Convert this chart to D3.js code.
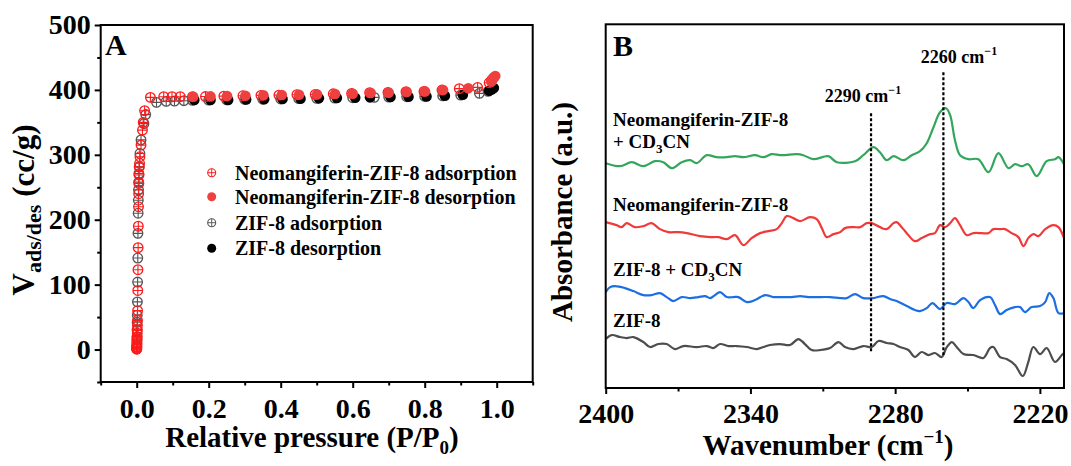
<!DOCTYPE html>
<html>
<head>
<meta charset="utf-8">
<script src="https://cdn.jsdelivr.net/npm/d3@7"></script>
<style>
  body { margin: 0; background: #fff; }
  svg { display: block; font-family: "Liberation Serif", "Times New Roman", serif; font-weight: bold; }
  svg text { font-family: "Liberation Serif", "Times New Roman", serif; font-weight: bold; }
</style>
</head>
<body>
<svg id="fig" width="1071" height="466"></svg>
<script>
// ---------- Panel A: N2 isotherms, [P/P0, V (cc/g)] ----------
const neoAdsorption = [
  [0.0001,0.5],[0.0002,1.5],[0.0003,3],[0.0005,5],[0.0007,8],[0.0009,12],[0.001,16],[0.0012,20],
  [0.0015,25],[0.0017,30],[0.002,37],[0.0022,45],[0.0025,60],[0.003,91],[0.0035,123],[0.004,157],
  [0.0045,190],[0.005,220],[0.0055,240],[0.006,256],[0.0065,269],[0.007,281],[0.008,287],[0.009,297],
  [0.012,315],[0.016,338],[0.018,350],[0.022,368],
  [0.038,388.5],[0.075,389.5],[0.098,389.5],[0.121,389.5],[0.155,389.5],[0.191,389.8],[0.242,390.5],
  [0.295,391],[0.345,391.6],[0.395,392],[0.445,392.6],[0.496,393],[0.546,394],[0.597,394.6],
  [0.647,395.7],[0.698,396.2],[0.748,397.2],[0.798,397.7],[0.848,399.8],[0.896,401.9],[0.947,403.9],
  [0.979,411],[0.986,415],[0.992,419]
];
const neoDesorption = [
  [0.996,421.4],[0.990,417.8],[0.985,412.6],[0.921,402.4],[0.851,399.8],[0.801,397.7],[0.750,396.7],
  [0.700,395.7],[0.650,395.2],[0.600,394.1],[0.551,393.6],[0.501,393.1],[0.451,392.6],[0.403,392.1],
  [0.352,391.6],[0.302,391.1],[0.251,390.5],[0.205,390],[0.157,389.5]
];
const zifAdsorption = [
  [0.0001,1],[0.0002,4],[0.0004,9],[0.0006,15],[0.0008,19.5],[0.001,30],[0.0013,42],[0.0016,53],
  [0.002,73.5],[0.0025,104],[0.003,141],[0.0035,179],[0.004,210],[0.0045,230],[0.005,246],
  [0.0055,258],[0.006,271],[0.007,282],[0.009,302],[0.012,323],[0.02,348],[0.025,362],
  [0.055,380.8],[0.082,382.3],[0.105,382.8],[0.131,383.4],[0.155,383.9],[0.2,384.2],[0.25,384.7],
  [0.3,385.2],[0.35,385.6],[0.4,386],[0.45,386.5],[0.5,387],[0.55,387.5],[0.6,388],[0.66,388.5],
  [0.7,389],[0.75,389.5],[0.8,390],[0.85,390.8],[0.9,392],[0.952,394.7],[0.976,397.8]
];
const zifDesorption = [
  [0.992,403],[0.986,400.8],[0.979,398.8],[0.906,392.6],[0.856,391],[0.805,390],[0.755,389.5],
  [0.705,389],[0.648,388.5],[0.607,388],[0.556,387.5],[0.506,387],[0.455,386.5],[0.405,386],
  [0.354,385.6],[0.304,385.4],[0.254,384.6],[0.205,384.4],[0.16,384.4]
];
const pressureTicks = [0, 0.2, 0.4, 0.6, 0.8, 1.0];
const pressureMinorTicks = [-0.1, 0.1, 0.3, 0.5, 0.7, 0.9, 1.1];
const volumeTicks = [0, 100, 200, 300, 400, 500];
const volumeMinorTicks = [-50, 50, 150, 250, 350, 450];
const isothermNames = ["Neomangiferin-ZIF-8 adsorption", "Neomangiferin-ZIF-8 desorption",
                       "ZIF-8 adsorption", "ZIF-8 desorption"];

// ---------- Panel B: IR spectra, [wavenumber (cm-1), absorbance (a.u.)] ----------
const specZif8 = [
  [2400,0.49],[2397.5,0.53],[2394.1,0.51],[2391.3,0.50],[2388.5,0.51],[2384.4,0.46],[2381.6,0.41],
  [2378.2,0.44],[2374.7,0.44],[2371.3,0.39],[2367.8,0.42],[2362.3,0.41],[2358.1,0.42],[2355.4,0.40],
  [2352.6,0.44],[2349.1,0.42],[2345.7,0.42],[2341.5,0.41],[2337.4,0.39],[2334.6,0.41],[2331.9,0.43],
  [2327.7,0.44],[2323.6,0.43],[2320.1,0.49],[2317.4,0.44],[2314.6,0.38],[2311.1,0.38],[2307.0,0.40],
  [2303.5,0.46],[2300.8,0.41],[2297.3,0.39],[2293.2,0.42],[2289.7,0.41],[2286.9,0.47],[2283.5,0.45],
  [2280.7,0.44],[2278.0,0.41],[2274.5,0.38],[2271.8,0.31],[2269.0,0.36],[2266.2,0.33],[2263.5,0.35],
  [2260.7,0.31],[2258.6,0.41],[2256.5,0.46],[2254.5,0.41],[2251.7,0.34],[2247.6,0.33],[2243.4,0.30],
  [2240.7,0.40],[2239.3,0.41],[2236.5,0.31],[2233.8,0.29],[2230.3,0.23],[2227.1,0.12],[2224.8,0.26],
  [2222.7,0.41],[2219.9,0.34],[2217.2,0.40],[2213.7,0.26],[2210.9,0.33],[2210,0.35]
];
const specZif8CD3CN = [
  [2400,0.96],[2398.2,1.01],[2396.1,1.02],[2392.0,1.00],[2388.5,0.97],[2384.4,0.93],[2381.0,0.93],
  [2377.5,0.95],[2374.7,0.91],[2372.0,0.87],[2368.5,0.91],[2365.0,0.90],[2361.6,0.91],[2358.8,0.92],
  [2356.7,0.90],[2354.7,0.93],[2352.6,0.96],[2349.8,0.91],[2347.1,0.91],[2345.0,0.91],[2341.5,0.86],
  [2338.1,0.88],[2333.9,0.93],[2330.5,0.91],[2327.0,0.91],[2322.9,0.91],[2319.4,0.92],[2316.0,0.91],
  [2312.5,0.91],[2307.0,0.91],[2302.8,0.90],[2300.1,0.90],[2296.6,0.94],[2293.2,0.90],[2289.0,0.90],
  [2284.9,0.92],[2282.1,0.89],[2279.4,0.87],[2275.2,0.82],[2271.8,0.78],[2269.7,0.77],[2266.9,0.80],
  [2264.5,0.85],[2261.4,0.79],[2258.6,0.85],[2255.2,0.84],[2251.7,0.90],[2249.6,0.86],[2247.6,0.80],
  [2244.8,0.88],[2240.7,0.91],[2238.6,0.83],[2236.5,0.74],[2233.8,0.78],[2230.3,0.81],[2228.2,0.81],
  [2226.2,0.76],[2223.4,0.81],[2219.9,0.82],[2217.8,0.86],[2216.1,0.95],[2214.4,0.90],[2212.3,0.75],
  [2210,0.75]
];
const specNeo = [
  [2400,1.66],[2395.5,1.63],[2393.4,1.61],[2391.3,1.65],[2387.9,1.61],[2384.4,1.62],[2381.0,1.65],
  [2377.5,1.59],[2374.0,1.56],[2369.9,1.56],[2366.4,1.55],[2360.9,1.52],[2356.7,1.51],[2353.3,1.51],
  [2349.8,1.49],[2346.4,1.53],[2342.9,1.43],[2339.5,1.50],[2336.0,1.55],[2332.6,1.57],[2329.1,1.59],
  [2327.0,1.65],[2325.0,1.72],[2322.2,1.70],[2319.4,1.67],[2315.3,1.71],[2312.5,1.69],[2310.4,1.60],
  [2308.4,1.51],[2305.6,1.54],[2302.8,1.56],[2300.8,1.60],[2297.3,1.61],[2294.5,1.61],[2291.8,1.65],
  [2289.7,1.65],[2286.3,1.61],[2283.5,1.59],[2280.7,1.65],[2279.4,1.66],[2277.3,1.61],[2275.2,1.55],
  [2271.8,1.47],[2269.0,1.50],[2265.5,1.54],[2263.5,1.55],[2261.4,1.63],[2259.3,1.61],[2257.2,1.65],
  [2255.2,1.70],[2253.1,1.63],[2250.3,1.53],[2247.6,1.55],[2244.1,1.55],[2241.3,1.55],[2239.3,1.59],
  [2236.5,1.59],[2234.4,1.59],[2231.7,1.55],[2228.9,1.51],[2226.8,1.42],[2224.8,1.50],[2222.7,1.54],
  [2220.6,1.52],[2217.8,1.59],[2214.4,1.63],[2212.3,1.61],[2210,1.50]
];
const specNeoCD3CN = [
  [2400,2.25],[2394.1,2.22],[2389.2,2.26],[2384.4,2.22],[2379.6,2.27],[2376.1,2.26],[2372.6,2.20],
  [2368.5,2.26],[2365.0,2.28],[2362.3,2.25],[2358.1,2.33],[2354.0,2.31],[2349.8,2.31],[2346.4,2.32],
  [2342.9,2.31],[2338.1,2.33],[2334.6,2.31],[2331.2,2.34],[2327.0,2.33],[2320.8,2.34],[2318.1,2.33],
  [2313.9,2.29],[2307.7,2.32],[2304.2,2.26],[2296.6,2.27],[2293.2,2.33],[2289.0,2.41],[2286.3,2.36],
  [2283.5,2.28],[2280.7,2.32],[2276.6,2.28],[2273.1,2.33],[2269.7,2.37],[2266.9,2.45],[2264.1,2.61],
  [2261.4,2.76],[2258.9,2.80],[2257.2,2.73],[2255.2,2.48],[2253.1,2.33],[2249.6,2.29],[2245.5,2.29],
  [2241.3,2.16],[2237.2,2.35],[2233.0,2.20],[2230.3,2.24],[2227.5,2.22],[2224.8,2.24],[2221.3,2.12],
  [2217.2,2.27],[2213.7,2.29],[2212.3,2.31],[2210,2.24]
];
const wavenumberTicks = [2400, 2340, 2280, 2220];
const wavenumberMinorTicks = [2370, 2310, 2250];
const peakPositions = [2290, 2260];
const peakLineTop = [2.75, 3.16];
const peakLineBottom = [0.35, 0.33];
const peakLabelText = ["2290 cm", "2260 cm"];

// ---------- shared setup ----------
const svg = d3.select("#fig");
const SERIF = '"Liberation Serif", "Times New Roman", serif';
const FONT_TICK = 28, FONT_TITLE = 29;

function styleAxis(g, fontSize) {
  g.attr("font-family", SERIF).attr("font-weight", "bold");
  g.select(".domain").remove();
  g.selectAll(".tick line").attr("stroke", "#000").attr("stroke-width", 2);
  g.selectAll(".tick text").attr("fill", "#000")
    .style("font-family", SERIF).style("font-weight", "bold")
    .style("font-size", fontSize + "px");
}

// ================= Panel A =================
const xA = d3.scaleLinear().domain([-0.1, 1.1]).range([100.7, 532.7]);
const yA = d3.scaleLinear().domain([-50, 500]).range([382, 25]);

const gA = svg.append("g");

// axes (major + minor ticks)
styleAxis(gA.append("g").attr("transform", `translate(0,${yA(-50)})`)
  .call(d3.axisBottom(xA).tickValues(pressureTicks).tickFormat(d3.format(".1f"))
    .tickSizeInner(6).tickSizeOuter(0).tickPadding(10)), FONT_TICK);
styleAxis(gA.append("g").attr("transform", `translate(0,${yA(-50)})`)
  .call(d3.axisBottom(xA).tickValues(pressureMinorTicks).tickFormat("")
    .tickSizeInner(3.5).tickSizeOuter(0)), FONT_TICK);
styleAxis(gA.append("g").attr("transform", `translate(${xA(-0.1)},0)`)
  .call(d3.axisLeft(yA).tickValues(volumeTicks).tickFormat(d3.format("d"))
    .tickSizeInner(6).tickSizeOuter(0).tickPadding(4)), FONT_TICK);
styleAxis(gA.append("g").attr("transform", `translate(${xA(-0.1)},0)`)
  .call(d3.axisLeft(yA).tickValues(volumeMinorTicks).tickFormat("")
    .tickSizeInner(3.5).tickSizeOuter(0)), FONT_TICK);

// frame
gA.append("rect")
  .attr("x", xA(-0.1)).attr("y", yA(500))
  .attr("width", xA(1.1) - xA(-0.1)).attr("height", yA(-50) - yA(500))
  .attr("fill", "none").attr("stroke", "#000").attr("stroke-width", 2);

// marker helpers
function crossCircle(g, cx, cy, r, color, sw) {
  g.append("circle").attr("cx", cx).attr("cy", cy).attr("r", r)
    .attr("fill", "none").attr("stroke", color).attr("stroke-width", sw);
  g.append("path")
    .attr("d", `M${cx - r},${cy}H${cx + r}M${cx},${cy - r}V${cy + r}`)
    .attr("stroke", color).attr("stroke-width", sw * 0.85).attr("fill", "none");
}
function dot(g, cx, cy, r, color) {
  g.append("circle").attr("cx", cx).attr("cy", cy).attr("r", r).attr("fill", color);
}

const isoStyles = [
  { data: neoAdsorption, kind: "open", color: "#ff1a1a" },
  { data: neoDesorption, kind: "filled", color: "#ef4040" },
  { data: zifAdsorption, kind: "open", color: "#555555" },
  { data: zifDesorption, kind: "filled", color: "#000000" }
];

// draw order: ZIF-8 first, Neomangiferin on top
const marks = gA.append("g");
[2, 3, 0, 1].forEach(i => {
  const s = isoStyles[i];
  const g = marks.append("g");
  s.data.forEach(([p, v]) => {
    if (s.kind === "open") crossCircle(g, xA(p), yA(v), 4.8, s.color, 1.3);
    else dot(g, xA(p), yA(v), 5.3, s.color);
  });
});

// legend
const legA = gA.append("g");
const legendRows = [172.7, 196.7, 222.7, 248.3];
isoStyles.forEach((s, i) => {
  const cy = legendRows[i];
  if (s.kind === "open") crossCircle(legA, 211.7, cy, 4, s.color, 1.1);
  else dot(legA, 211.7, cy, 4.5, s.color);
  legA.append("text").attr("x", 235).attr("y", cy + 7)
    .style("font-size", "20px").attr("fill", "#000").text(isothermNames[i]);
});

// panel letter
gA.append("text").attr("x", 105).attr("y", 55).style("font-size", "30px").text("A");

// axis titles
const xTitleA = gA.append("text").attr("x", 312).attr("y", 447)
  .attr("text-anchor", "middle").style("font-size", FONT_TITLE + "px");
xTitleA.append("tspan").text("Relative pressure (P/P");
xTitleA.append("tspan").attr("dy", 7).style("font-size", "19px").text("0");
xTitleA.append("tspan").attr("dy", -7).text(")");

const yTitleA = gA.append("text").attr("transform", "translate(34,210) rotate(-90)")
  .attr("text-anchor", "middle").style("font-size", "31px");
yTitleA.append("tspan").text("V");
yTitleA.append("tspan").attr("dy", 7).style("font-size", "22px").text("ads/des");
yTitleA.append("tspan").attr("dy", -7).text(" (cc/g)");

// ================= Panel B =================
const xB = d3.scaleLinear().domain([2400, 2210]).range([605.7, 1064]);
const yB = d3.scaleLinear().domain([0, 3.64]).range([388, 24.3]);

const gB = svg.append("g");

styleAxis(gB.append("g").attr("transform", `translate(0,${yB(0)})`)
  .call(d3.axisBottom(xB).tickValues(wavenumberTicks).tickFormat(d3.format("d"))
    .tickSizeInner(6).tickSizeOuter(0).tickPadding(9)), FONT_TICK);
styleAxis(gB.append("g").attr("transform", `translate(0,${yB(0)})`)
  .call(d3.axisBottom(xB).tickValues(wavenumberMinorTicks).tickFormat("")
    .tickSizeInner(3.5).tickSizeOuter(0)), FONT_TICK);

svg.append("defs").append("clipPath").attr("id", "clipB")
  .append("rect").attr("x", xB(2400)).attr("y", yB(3.64))
  .attr("width", xB(2210) - xB(2400)).attr("height", yB(0) - yB(3.64));

const line = d3.line().x(d => xB(d[0])).y(d => yB(d[1])).curve(d3.curveCatmullRom.alpha(0.5));
const spectra = [
  { data: specZif8, color: "#4d4d4d" },
  { data: specZif8CD3CN, color: "#1c6fe3" },
  { data: specNeo, color: "#f03a3a" },
  { data: specNeoCD3CN, color: "#34a65c" }
];
const plotB = gB.append("g").attr("clip-path", "url(#clipB)");
spectra.forEach(s => {
  plotB.append("path").datum(s.data).attr("d", line)
    .attr("fill", "none").attr("stroke", s.color).attr("stroke-width", 2.2)
    .attr("stroke-linejoin", "round");
});

// peak markers
peakPositions.forEach((w, i) => {
  gB.append("line")
    .attr("x1", xB(w)).attr("x2", xB(w))
    .attr("y1", yB(peakLineTop[i])).attr("y2", yB(peakLineBottom[i]))
    .attr("stroke", "#000").attr("stroke-width", 2.2).attr("stroke-dasharray", "3,2");
});
const peakLabelPos = [[863, 102], [959, 63]];
peakLabelText.forEach((t, i) => {
  const tx = gB.append("text").attr("x", peakLabelPos[i][0]).attr("y", peakLabelPos[i][1])
    .attr("text-anchor", "middle").style("font-size", "18px");
  tx.append("tspan").text(t);
  tx.append("tspan").attr("dy", -8).style("font-size", "12px").text("\u22121");
});

// spectrum labels
function chemLabel(x, y, parts) {
  const t = gB.append("text").attr("x", x).attr("y", y).style("font-size", "19px");
  parts.forEach(p => {
    if (p.sub) t.append("tspan").attr("dy", 5).style("font-size", "13px").text(p.sub);
    else t.append("tspan").attr("dy", p.back ? -5 : 0).text(p.text);
  });
}
chemLabel(613, 126, [{ text: "Neomangiferin-ZIF-8" }]);
chemLabel(613, 148, [{ text: "+ CD" }, { sub: "3" }, { text: "CN", back: true }]);
chemLabel(613, 211, [{ text: "Neomangiferin-ZIF-8" }]);
chemLabel(613, 276, [{ text: "ZIF-8 + CD" }, { sub: "3" }, { text: "CN", back: true }]);
chemLabel(613, 327, [{ text: "ZIF-8" }]);

// frame
gB.append("rect")
  .attr("x", xB(2400)).attr("y", yB(3.64))
  .attr("width", xB(2210) - xB(2400)).attr("height", yB(0) - yB(3.64))
  .attr("fill", "none").attr("stroke", "#000").attr("stroke-width", 2);

// panel letter
gB.append("text").attr("x", 613).attr("y", 56).style("font-size", "30px").text("B");

// axis titles
const xTitleB = gB.append("text").attr("x", 828).attr("y", 455)
  .attr("text-anchor", "middle").style("font-size", FONT_TITLE + "px");
xTitleB.append("tspan").text("Wavenumber (cm");
xTitleB.append("tspan").attr("dy", -12).style("font-size", "19px").text("\u22121");
xTitleB.append("tspan").attr("dy", 12).text(")");

gB.append("text").attr("transform", "translate(572,212) rotate(-90)")
  .attr("text-anchor", "middle").style("font-size", FONT_TITLE + "px")
  .text("Absorbance (a.u.)");
</script>
</body>
</html>
